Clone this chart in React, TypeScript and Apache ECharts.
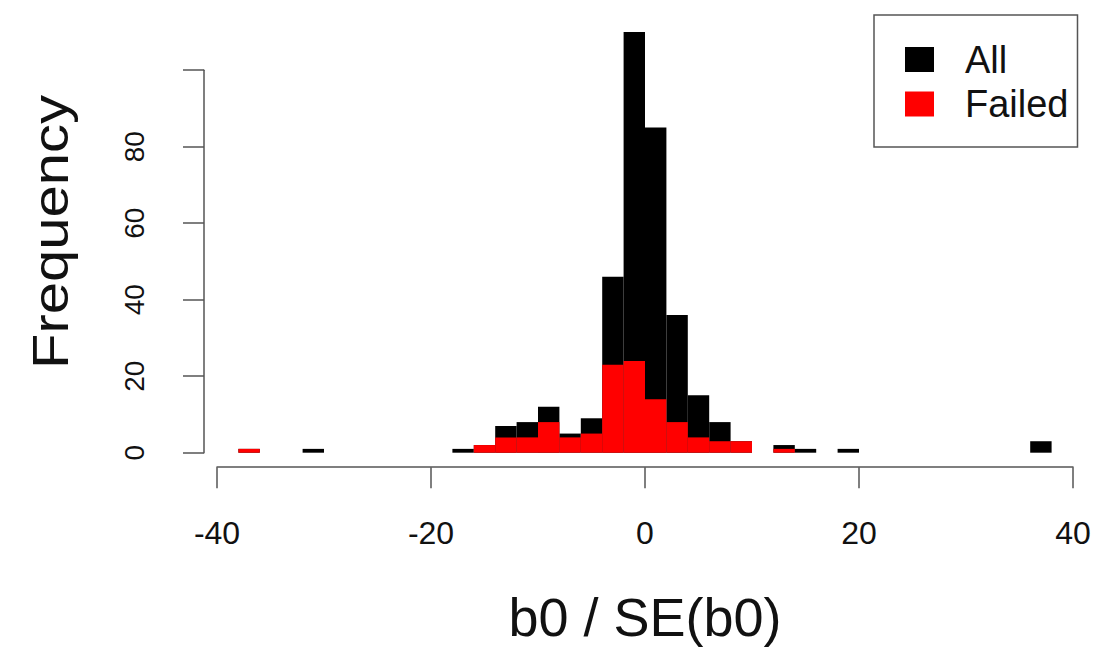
import React, { useEffect, useRef } from "react";
import * as echarts from "echarts";

// histogram bins (left edges, width 2)
const binLefts = [
  -40, -38, -36, -34, -32, -30, -28, -26, -24, -22,
  -20, -18, -16, -14, -12, -10, -8, -6, -4, -2,
  0, 2, 4, 6, 8, 10, 12, 14, 16, 18,
  20, 22, 24, 26, 28, 30, 32, 34, 36, 38,
];
const binWidth = 2;
const allCounts = [
  0, 1, 0, 0, 1, 0, 0, 0, 0, 0,
  0, 1, 2, 7, 8, 12, 5, 9, 46, 110,
  85, 36, 15, 8, 3, 0, 2, 1, 0, 1,
  0, 0, 0, 0, 0, 0, 0, 0, 3, 0,
];
const failedCounts = [
  0, 1, 0, 0, 0, 0, 0, 0, 0, 0,
  0, 0, 2, 4, 4, 8, 4, 5, 23, 24,
  14, 8, 4, 3, 3, 0, 1, 0, 0, 0,
  0, 0, 0, 0, 0, 0, 0, 0, 0, 0,
];
const xTicks = [-40, -20, 0, 20, 40];
const yTicks = [0, 20, 40, 60, 80, 100];
const seriesNames = ["All", "Failed"];
const xTitle = "b0 / SE(b0)";
const yTitle = "Frequency";

const FONT = "Liberation Sans, Arial, Helvetica, sans-serif";

function toData(counts: number[]) {
  const out: number[][] = [];
  counts.forEach((c, i) => {
    if (c > 0) out.push([binLefts[i], binLefts[i] + binWidth, c]);
  });
  return out;
}

function makeRender(color: string) {
  return (params: any, api: any) => {
    const x0 = api.value(0);
    const x1 = api.value(1);
    const y = api.value(2);
    const p0 = api.coord([x0, y]);
    const p1 = api.coord([x1, 0]);
    return {
      type: "rect",
      shape: { x: p0[0], y: p0[1], width: p1[0] - p0[0], height: p1[1] - p0[1] },
      style: { fill: color },
    };
  };
}

export default function App() {
  const ref = useRef<HTMLDivElement>(null);
  useEffect(() => {
    if (!ref.current) return;
    const chart = echarts.init(ref.current, undefined, { renderer: "svg" });
    const axisColor = "#555";
    chart.setOption({
      animation: false,
      backgroundColor: "#fff",
      grid: { left: 217, right: 28, top: 70.2, bottom: 199.3, containLabel: false },
      xAxis: {
        type: "value",
        min: xTicks[0],
        max: xTicks[xTicks.length - 1],
        interval: 20,
        offset: 14.5,
        axisLine: { show: true, onZero: false, lineStyle: { color: axisColor, width: 1.5 } },
        axisTick: { show: true, inside: false, length: 21, lineStyle: { color: axisColor, width: 1.5 } },
        axisLabel: { color: "#111", fontSize: 32, fontFamily: FONT, margin: 50 },
        splitLine: { show: false },
      },
      yAxis: {
        type: "value",
        min: yTicks[0],
        max: yTicks[yTicks.length - 1],
        interval: 20,
        offset: 13,
        axisLine: { show: true, onZero: false, lineStyle: { color: axisColor, width: 1.5 } },
        axisTick: { show: true, inside: false, length: 21, lineStyle: { color: axisColor, width: 1.5 } },
        axisLabel: {
          color: "#111",
          fontSize: 28,
          fontFamily: FONT,
          rotate: 90,
          margin: 56,
          formatter: (v: number) => (v === 100 ? "" : String(v)),
        },
        splitLine: { show: false },
      },
      legend: {
        orient: "vertical",
        left: 874,
        top: 15,
        data: seriesNames,
        icon: "rect",
        itemWidth: 29,
        itemHeight: 25,
        itemGap: 6.5,
        padding: [25.5, 9, 24, 31],
        borderColor: "#555",
        borderWidth: 1.5,
        textStyle: {
          color: "#111",
          fontSize: 38,
          fontFamily: FONT,
          padding: [0, 0, 0, 26],
        },
      },
      graphic: [
        {
          type: "text",
          x: 645,
          y: 617,
          style: {
            text: xTitle,
            fontSize: 54,
            fontFamily: FONT,
            fill: "#111",
            align: "center",
            verticalAlign: "middle",
          },
        },
        {
          type: "text",
          x: 50,
          y: 232,
          rotation: Math.PI / 2,
          scaleX: 1.16,
          style: {
            text: yTitle,
            fontSize: 50,
            fontFamily: FONT,
            fill: "#111",
            align: "center",
            verticalAlign: "middle",
          },
        },
      ],
      series: [
        {
          name: seriesNames[0],
          type: "custom",
          clip: false,
          itemStyle: { color: "#000" },
          encode: { x: [0, 1], y: 2 },
          renderItem: makeRender("#000"),
          data: toData(allCounts),
        },
        {
          name: seriesNames[1],
          type: "custom",
          clip: false,
          itemStyle: { color: "#ff0000" },
          encode: { x: [0, 1], y: 2 },
          renderItem: makeRender("#ff0000"),
          data: toData(failedCounts),
        },
      ],
    });
    return () => chart.dispose();
  }, []);
  return <div ref={ref} style={{ width: 1101, height: 652, position: "absolute", left: 0, top: 0 }} />;
}
